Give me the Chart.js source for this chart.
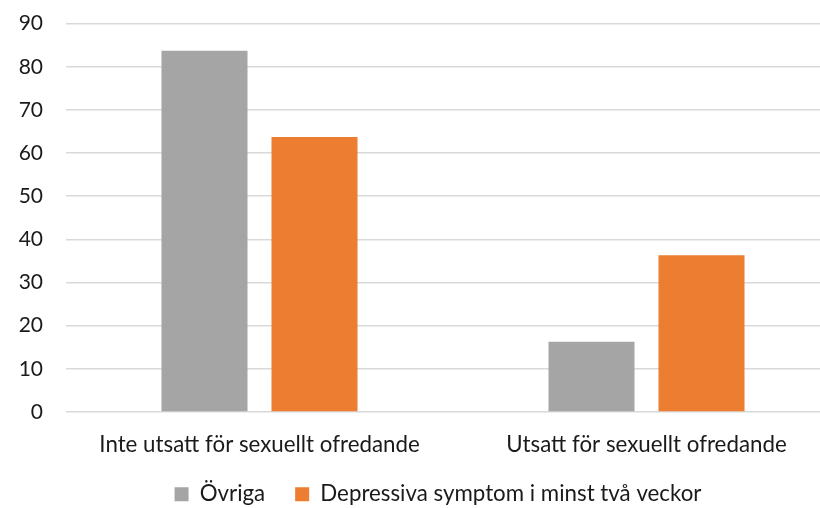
<!doctype html>
<html lang="sv">
<head>
  <meta charset="utf-8">
  <title>Depressiva symptom och sexuellt ofredande</title>
  <script src="https://cdn.jsdelivr.net/npm/chart.js"></script>
  <style>
    html, body { margin: 0; padding: 0; background: #fff; overflow: hidden; }
    .wrap { width: 820px; height: 508px; overflow: hidden; position: relative; }
    .inner { width: 860px; height: 528px; margin-top: -12px; }
  </style>
</head>
<body>
  <div class="wrap">
    <!-- canvas is a bit larger than the visible box: plot runs off the right edge like the original -->
    <div class="inner"><canvas id="chart" width="860" height="528"></canvas></div>
  </div>

  <script>
    const categories = ['Inte utsatt för sexuellt ofredande', 'Utsatt för sexuellt ofredande'];
    const seriesNames = ['Övriga', 'Depressiva symptom i minst två veckor'];
    const ovriga = [83.7, 16.3];
    const depressiva = [63.7, 36.3];
    const yTicks = [0, 10, 20, 30, 40, 50, 60, 70, 80, 90];

    const tickFont = { family: 'Lato, "Open Sans", sans-serif', size: 21 };
    const labelFont = { family: 'Lato, "Open Sans", sans-serif', size: 22.3 };
    const textColor = '#1a1a1a';

    // nudge the legend a little to the right, the original is not centred on the canvas
    const legendShift = {
      id: 'legendShift',
      afterLayout(chart) {
        chart.legend.left += 15;
        chart.legend.right += 15;
      }
    };

    new Chart(document.getElementById('chart'), {
      type: 'bar',
      data: {
        labels: categories,
        datasets: [
          { label: seriesNames[0], data: ovriga, backgroundColor: '#A5A5A5' },
          { label: seriesNames[1], data: depressiva, backgroundColor: '#ED7D31' }
        ]
      },
      options: {
        responsive: false,
        animation: false,
        layout: { padding: { left: 6, right: 20, top: 0, bottom: 0.7 } },
        datasets: { bar: { categoryPercentage: 0.5685, barPercentage: 0.782 } },
        plugins: {
          tooltip: { enabled: false },
          legend: {
            position: 'bottom',
            labels: {
              font: labelFont, color: textColor,
              boxWidth: 14, boxHeight: 14, padding: 30
            }
          }
        },
        scales: {
          x: {
            grid: { display: false, drawTicks: false },
            border: { display: false },
            ticks: { font: labelFont, color: textColor, padding: 19, maxRotation: 0 },
            afterFit: s => { s.height = 41; }
          },
          y: {
            min: 0, max: 90,
            afterBuildTicks: s => { s.ticks = yTicks.map(v => ({ value: v })); },
            grid: { color: '#D9D9D9', lineWidth: 1.5, drawTicks: false },
            border: { display: false },
            ticks: { font: tickFont, color: textColor, padding: 23 },
            afterFit: s => { s.width = 60; }
          }
        }
      },
      plugins: [legendShift]
    });
  </script>
</body>
</html>
